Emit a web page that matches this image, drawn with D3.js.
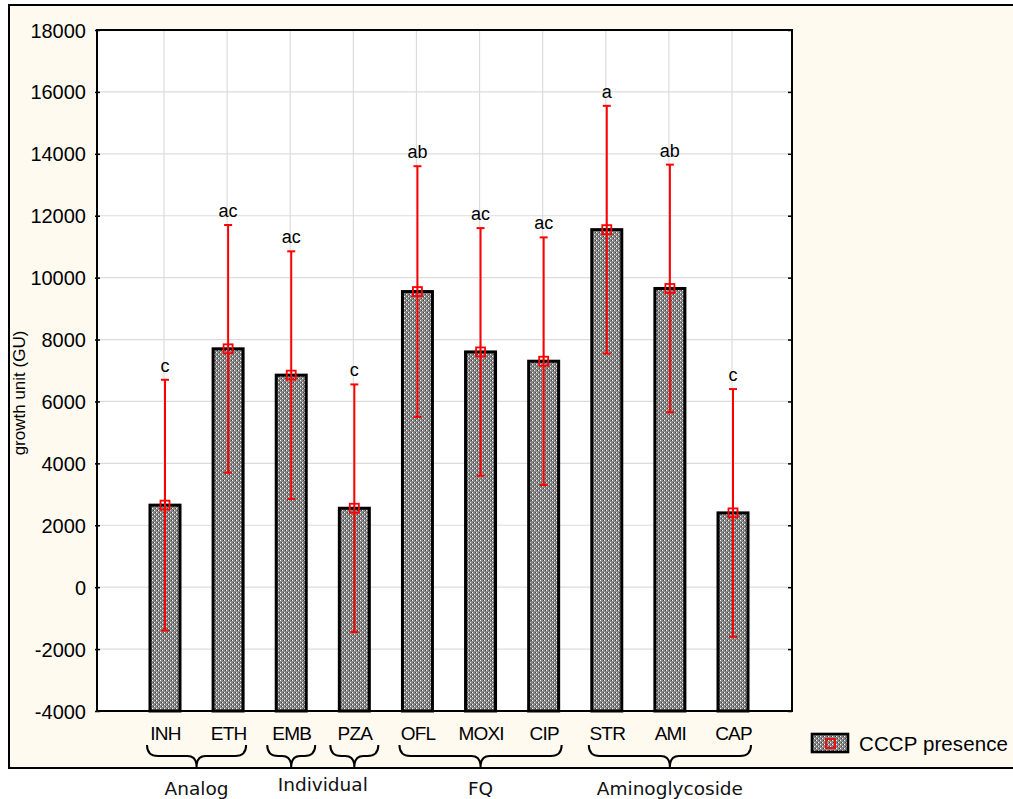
<!DOCTYPE html>
<html><head><meta charset="utf-8">
<script src="https://cdn.jsdelivr.net/npm/d3@7"></script>
<style>
html,body{margin:0;padding:0;background:#fff;}
svg{display:block;}
</style></head>
<body>
<svg id="chart" width="1013" height="799"></svg>
<script>
const categories = ["INH","ETH","EMB","PZA","OFL","MOXI","CIP","STR","AMI","CAP"];
const values = [2650, 7700, 6850, 2550, 9550, 7600, 7300, 11550, 9650, 2400];
const errors = [4050, 4000, 4000, 4000, 4050, 4000, 4000, 4000, 4000, 4000];
const letters = ["c","ac","ac","c","ab","ac","ac","a","ab","c"];
const yTicks = [-4000,-2000,0,2000,4000,6000,8000,10000,12000,14000,16000,18000];
const braceFrom = ["INH","EMB","PZA","OFL","STR"];
const braceTo   = ["ETH","EMB","PZA","CIP","CAP"];
const groupLabels = ["Analog","Individual","FQ","Aminoglycoside"];
const groupFrom = ["INH","EMB","OFL","STR"];
const groupTo   = ["ETH","PZA","CIP","CAP"];
const legendLabel = "CCCP presence";
const yTitle = "growth unit (GU)";

const svg = d3.select("#chart");
const P = {l:97, r:792, t:30, b:711};
const SANS = "Liberation Sans, Arial, sans-serif";

// outer frame (right side runs off the picture)
svg.append("rect").attr("x",9).attr("y",5).attr("width",1030).attr("height",763)
  .attr("fill","#fefaf0").attr("stroke","#000").attr("stroke-width",2);

// pattern
const defs = svg.append("defs");
const pat = defs.append("pattern").attr("id","chk").attr("patternUnits","userSpaceOnUse")
  .attr("width",4).attr("height",4);
pat.append("rect").attr("width",4).attr("height",4).attr("fill","#888888");
pat.append("rect").attr("x",0).attr("y",0).attr("width",1).attr("height",1).attr("fill","#ffffff");
pat.append("rect").attr("x",2).attr("y",2).attr("width",1).attr("height",1).attr("fill","#f0f0f0");
pat.append("rect").attr("x",1).attr("y",2).attr("width",1).attr("height",1).attr("fill","#404040");
pat.append("rect").attr("x",3).attr("y",0).attr("width",1).attr("height",1).attr("fill","#404040");

const y = d3.scaleLinear().domain([-4000,18000]).range([P.b,P.t]);
const x = d3.scalePoint().domain(categories).range([P.l+68, P.r-59]);

// plot bg
svg.append("rect").attr("x",P.l).attr("y",P.t).attr("width",P.r-P.l).attr("height",P.b-P.t).attr("fill","#fff");

// grid
svg.append("g").selectAll("line").data(yTicks).join("line")
  .attr("x1",P.l).attr("x2",P.r).attr("y1",d=>y(d)).attr("y2",d=>y(d))
  .attr("stroke","#dcdcdc").attr("stroke-width",1.2);
svg.append("g").selectAll("line").data(categories).join("line")
  .attr("x1",d=>x(d)-1).attr("x2",d=>x(d)-1).attr("y1",P.t).attr("y2",P.b)
  .attr("stroke","#dcdcdc").attr("stroke-width",1.2);

// y axis
const yAxis = d3.axisLeft(y).tickValues(yTicks).tickSize(3).tickFormat(d=>String(d));
const ga = svg.append("g").attr("transform",`translate(${P.l},0)`).call(yAxis);
ga.select(".domain").remove();
ga.selectAll(".tick line").attr("stroke","#000").attr("stroke-width",1.5).attr("x2",3).attr("x1",-2);
ga.selectAll("text").attr("font-family",SANS).attr("font-size",20).attr("fill","#000").attr("dy","0.35em").attr("x",-11);
const yAxisR = d3.axisRight(y).tickValues(yTicks).tickSize(0).tickFormat("");
const gr = svg.append("g").attr("transform",`translate(${P.r},0)`).call(yAxisR);
gr.select(".domain").remove();
gr.selectAll(".tick line").attr("stroke","#000").attr("stroke-width",1.5).attr("x1",-4).attr("x2",0);

// bars
const bw = 30;
svg.append("g").selectAll("rect").data(categories).join("rect")
  .attr("x",d=>x(d)-bw/2).attr("width",bw)
  .attr("y",(d,i)=>y(values[i])).attr("height",(d,i)=>P.b-y(values[i]))
  .attr("fill","url(#chk)").attr("stroke","#000").attr("stroke-width",3);

// plot border
svg.append("rect").attr("x",P.l).attr("y",P.t).attr("width",P.r-P.l).attr("height",P.b-P.t)
  .attr("fill","none").attr("stroke","#000").attr("stroke-width",2);

// x axis labels
const xAxis = d3.axisBottom(x).tickSize(0).tickPadding(16);
const gx = svg.append("g").attr("transform",`translate(0,${P.b})`).call(xAxis);
gx.select(".domain").remove();
gx.selectAll("text").attr("font-family",SANS).attr("font-size",19)
  .attr("letter-spacing","-0.8px").attr("fill","#000");

// error bars
const eg = svg.append("g");
categories.forEach((c,i)=>{
  const cx = x(c);
  const top = y(values[i]+errors[i]), bot = y(values[i]-errors[i]);
  eg.append("line").attr("x1",cx).attr("x2",cx).attr("y1",top).attr("y2",bot).attr("stroke","#ff0000").attr("stroke-width",2);
  [top,bot].forEach(v=>eg.append("line").attr("x1",cx-4).attr("x2",cx+4).attr("y1",v).attr("y2",v).attr("stroke","#ff0000").attr("stroke-width",2));
  eg.append("rect").attr("x",cx-4.5).attr("y",y(values[i])-4.5).attr("width",9).attr("height",9)
    .attr("fill","none").attr("stroke","#ff0000").attr("stroke-width",1.8);
  eg.append("text").attr("x",cx).attr("y",top-8).attr("text-anchor","middle")
    .attr("font-family",SANS).attr("font-size",18).attr("fill","#000").text(letters[i]);
});

// y title
svg.append("text").attr("transform",`translate(25,393) rotate(-90)`).attr("text-anchor","middle")
  .attr("font-family",SANS).attr("font-size",17).attr("fill","#000").text(yTitle);

// braces
const by0 = 745;
function brace(x1,x2){
  const m=(x1+x2)/2, h=11, t=22;
  return `M${x1},${by0} Q${x1},${by0+h} ${x1+11},${by0+h} L${m-9},${by0+h} Q${m},${by0+h} ${m},${by0+t} Q${m},${by0+h} ${m+9},${by0+h} L${x2-11},${by0+h} Q${x2},${by0+h} ${x2},${by0}`;
}
svg.append("g").selectAll("path").data(braceFrom).join("path")
  .attr("d",(d,i)=>{const pad = d===braceTo[i]?24:18; return brace(x(d)-pad, x(braceTo[i])+pad);})
  .attr("fill","none").attr("stroke","#000").attr("stroke-width",2);

// group labels
svg.append("g").selectAll("text").data(groupLabels).join("text")
  .attr("x",(d,i)=>(x(groupFrom[i])+x(groupTo[i]))/2).attr("y",(d,i)=>i===1?791:795).attr("text-anchor","middle")
  .attr("font-family","DejaVu Sans, Verdana, sans-serif").attr("font-size",18.5).attr("fill","#111").text(d=>d);

// frame bottom line over braces
svg.append("line").attr("x1",8).attr("x2",1013).attr("y1",768).attr("y2",768).attr("stroke","#000").attr("stroke-width",2);

// legend
const lg = svg.append("g");
lg.append("rect").attr("x",812).attr("y",734).attr("width",36).attr("height",18)
  .attr("fill","url(#chk)").attr("stroke","#000").attr("stroke-width",2.6);
lg.append("rect").attr("x",826).attr("y",739).attr("width",9).attr("height",9)
  .attr("fill","none").attr("stroke","#ff0000").attr("stroke-width",1.8);
lg.append("text").attr("x",859).attr("y",751).attr("font-family",SANS)
  .attr("font-size",20.5).attr("letter-spacing","0.1px").attr("fill","#000").text(legendLabel);
</script>
</body></html>
